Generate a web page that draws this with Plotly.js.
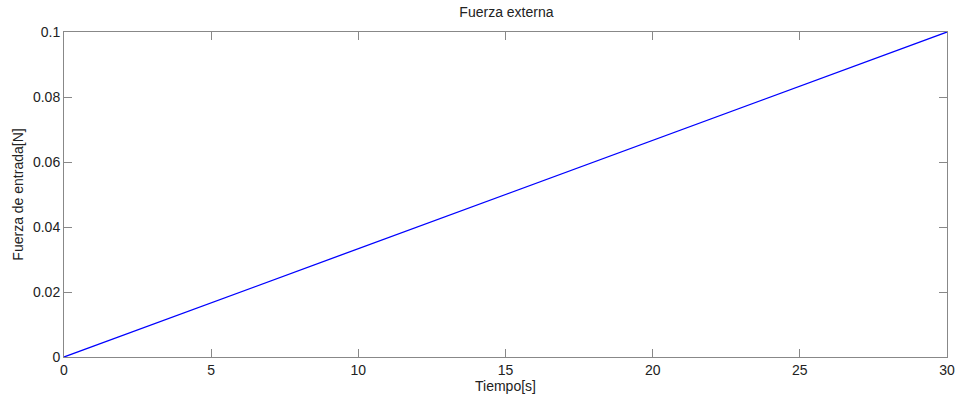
<!DOCTYPE html>
<html>
<head>
<meta charset="utf-8">
<script src="https://cdn.plot.ly/plotly-3.0.1.min.js"></script>
<style>html,body{margin:0;padding:0;background:#fff;}#chart{width:961px;height:401px;}</style>
</head>
<body>
<div id="chart"></div>
<script>
var tiempo = [0, 5, 10, 15, 20, 25, 30];
var fuerza = [0, 0.01667, 0.03333, 0.05, 0.06667, 0.08333, 0.1];
var xTicks = [0, 5, 10, 15, 20, 25, 30];
var yTicks = [0, 0.02, 0.04, 0.06, 0.08, 0.1];
var yTickText = ['0', '0.02', '0.04', '0.06', '0.08', '0.1'];

var trace = {
  x: tiempo, y: fuerza, type: 'scatter', mode: 'lines',
  line: {color: '#0000ff', width: 1.3}, hoverinfo: 'none'
};
var axisCommon = {
  showgrid: false, zeroline: false, showline: true, mirror: 'ticks',
  linecolor: '#888888', linewidth: 1, ticks: 'inside', ticklen: 8,
  tickcolor: '#888888', tickwidth: 1,
  tickfont: {family: 'Liberation Sans, Arial, sans-serif', size: 14, color: '#222'}
};
var layout = {
  width: 961, height: 401,
  margin: {l: 64, r: 14, t: 32, b: 44},
  paper_bgcolor: '#ffffff', plot_bgcolor: '#ffffff',
  showlegend: false,
  title: {text: 'Fuerza externa', x: 0.527, xanchor: 'center', y: 0.97, yanchor: 'middle',
          font: {family: 'Liberation Sans, Arial, sans-serif', size: 14, color: '#222'}},
  xaxis: Object.assign({}, axisCommon, {
    range: [0, 30], tickvals: xTicks, ticktext: xTicks.map(String),
    title: {text: 'Tiempo[s]', standoff: 2,
            font: {family: 'Liberation Sans, Arial, sans-serif', size: 14, color: '#222'}}
  }),
  yaxis: Object.assign({}, axisCommon, {
    range: [0, 0.1], tickvals: yTicks, ticktext: yTickText,
    title: {text: 'Fuerza de entrada[N]', standoff: 6,
            font: {family: 'Liberation Sans, Arial, sans-serif', size: 14, color: '#222'}}
  })
};
Plotly.newPlot('chart', [trace], layout, {staticPlot: true, displayModeBar: false});
</script>
</body>
</html>
